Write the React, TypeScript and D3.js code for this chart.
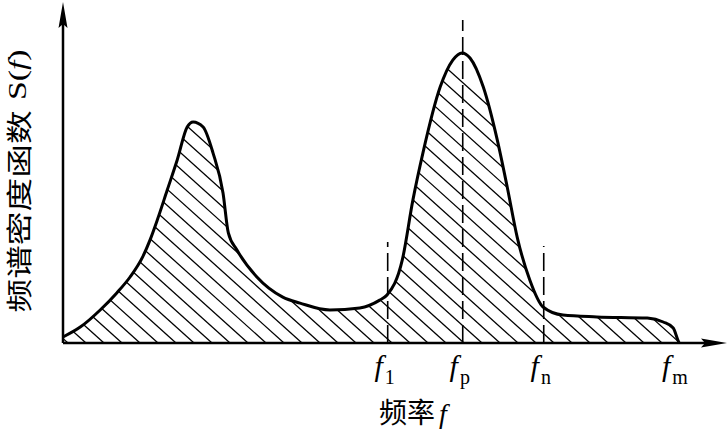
import React from "react";
import * as d3 from "d3";

// Spectral density curve S(f) (f in arbitrary units, S in % of scale)
const freq = [0, 0.26, 0.56, 0.81, 1.01, 1.2, 1.31, 1.42, 1.57, 1.72, 1.87, 1.96, 2.11, 2.26, 2.41, 2.49, 2.62, 2.92, 3.31, 3.57, 4.02, 4.47, 4.77, 4.88, 5.11, 5.27, 5.42, 5.68, 5.87, 6.01, 6.13, 6.33, 6.54, 6.69, 6.84, 7.03, 7.23, 7.53, 8.04, 8.8, 9.04, 9.19, 9.26, 9.28];
const density = [2, 5.3, 11, 16.7, 22, 28.7, 34.3, 41, 51, 61, 72, 73.7, 72, 63.3, 50, 36.7, 31, 22, 15.3, 13.3, 11, 11.7, 14.3, 16, 27.7, 47.7, 63.3, 85.3, 94.3, 96.7, 95, 85.3, 67.7, 52, 35.3, 21, 12, 9.3, 8.7, 8.3, 7, 5, 1, 0];

// Marked frequencies
const markNames = ["1", "p", "n", "m"];
const markFreq = [4.89, 6.02, 7.24, 9.26];
const markDashTop = [33.7, 107.7, 32.3, null];

const W = 728;
const H = 431;

export default function App() {
  const x = d3.scaleLinear().domain([0, 10]).range([63, 727]);
  const y = d3.scaleLinear().domain([0, 100]).range([343, 43]);
  const pts: [number, number][] = freq.map((f, i) => [f, density[i]]);

  const line = d3
    .line<[number, number]>()
    .x((d) => x(d[0]))
    .y((d) => y(d[1]))
    .curve(d3.curveMonotoneX);
  const area = d3
    .area<[number, number]>()
    .x((d) => x(d[0]))
    .y0(y(0))
    .y1((d) => y(d[1]))
    .curve(d3.curveMonotoneX);

  const x0 = x(0);
  const yb = y(0);

  // hatch lines "\" direction
  const hatch: React.ReactElement[] = [];
  const step = 18;
  const slope = 0.9;
  const span = 400;
  for (let hx = -400; hx < 760; hx += step) {
    hatch.push(
      <line
        key={hx}
        x1={hx}
        y1={yb}
        x2={hx - span}
        y2={yb - span * slope}
        stroke="#000"
        strokeWidth={1.3}
      />
    );
  }

  return (
    <svg width={W} height={H} style={{ position: "absolute", left: 0, top: 0, background: "#fff" }}>
      <rect width={W} height={H} fill="#fff" />
      <defs>
        <clipPath id="areaClip">
          <path d={area(pts) || ""} />
        </clipPath>
      </defs>
      <g clipPath="url(#areaClip)">{hatch}</g>
      <path d={line(pts) || ""} fill="none" stroke="#000" strokeWidth={3} strokeLinejoin="round" />

      {/* dashed marker lines */}
      {markFreq.map((f, i) =>
        markDashTop[i] == null ? null : (
          <line
            key={"d" + i}
            x1={x(f)}
            x2={x(f)}
            y1={yb}
            y2={y(markDashTop[i] as number)}
            stroke="#000"
            strokeWidth={1.6}
            strokeDasharray="18,6"
          />
        )
      )}

      {/* axes */}
      <line x1={x0} y1={yb} x2={x0} y2={20} stroke="#000" strokeWidth={2.5} />
      <path d={`M${x0},2 L${x0 - 4.5},28 L${x0},24 L${x0 + 4.5},28 Z`} fill="#000" />
      <line x1={x0} y1={yb} x2={708} y2={yb} stroke="#000" strokeWidth={2.5} />
      <path d={`M727,${yb} L701,${yb - 4.5} L705,${yb} L701,${yb + 4.5} Z`} fill="#000" />

      {/* mark labels */}
      {markFreq.map((f, i) => (
        <text
          key={"l" + i}
          x={x(f) - 3}
          y={376}
          textAnchor="middle"
          fontFamily="'Liberation Serif', 'DejaVu Serif', serif"
          fontSize={30}
        >
          <tspan fontStyle="italic">f</tspan>
          <tspan fontSize={20} dy={8} dx={2}>
            {markNames[i]}
          </tspan>
        </text>
      ))}

      {/* x axis title */}
      <text x={413} y={423} textAnchor="middle" fontSize={28}>
        <tspan fontFamily="'Noto Sans CJK SC', sans-serif">频率</tspan>
        <tspan fontFamily="'Liberation Serif', serif" fontStyle="italic" dx={4}>
          f
        </tspan>
      </text>

      {/* y axis title */}
      <text
        transform="translate(17,181) rotate(-90)"
        textAnchor="middle"
        dominantBaseline="central"
        fontSize={26}
        textLength={263}
        lengthAdjust="spacingAndGlyphs"
      >
        <tspan fontFamily="'Noto Sans CJK SC', sans-serif">频谱密度函数</tspan>
        <tspan fontFamily="'Liberation Serif', serif" dx={8}>
          S(
        </tspan>
        <tspan fontFamily="'Liberation Serif', serif" fontStyle="italic">
          f
        </tspan>
        <tspan fontFamily="'Liberation Serif', serif">)</tspan>
      </text>
    </svg>
  );
}
